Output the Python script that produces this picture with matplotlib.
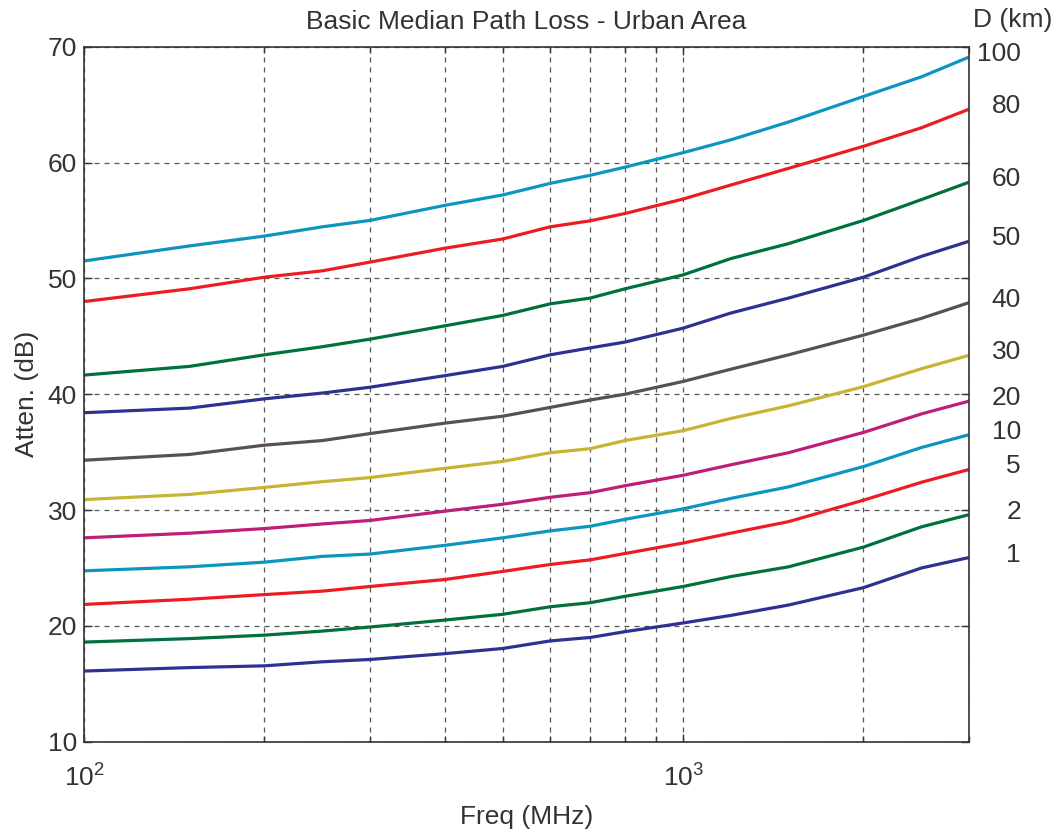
import matplotlib
matplotlib.use("Agg")
import matplotlib.pyplot as plt


FREQ = [100, 150, 200, 250, 300, 400, 500, 600, 700, 800, 1000, 1200, 1500, 2000, 2500, 3000]
DIST = [100, 80, 60, 50, 40, 30, 20, 10, 5, 2, 1]

# attenuation (dB) at each FREQ point, one list per distance
ATT_100 = [51.5, 52.8, 53.65, 54.45, 55.0, 56.3, 57.2, 58.2, 58.9, 59.6, 60.85, 61.95, 63.5, 65.7, 67.4, 69.1]
ATT_80 = [48.0, 49.1, 50.1, 50.65, 51.4, 52.6, 53.4, 54.45, 54.97, 55.6, 56.85, 58.05, 59.5, 61.4, 63.0, 64.6]
ATT_60 = [41.65, 42.4, 43.4, 44.1, 44.75, 45.9, 46.8, 47.8, 48.3, 49.1, 50.3, 51.7, 53.0, 55.0, 56.8, 58.3]
ATT_50 = [38.4, 38.8, 39.6, 40.1, 40.6, 41.6, 42.4, 43.4, 44.0, 44.5, 45.7, 47.0, 48.3, 50.1, 51.9, 53.2]
ATT_40 = [34.3, 34.8, 35.6, 36.0, 36.6, 37.5, 38.1, 38.86, 39.5, 40.0, 41.1, 42.15, 43.4, 45.1, 46.55, 47.9]
ATT_30 = [30.9, 31.35, 31.95, 32.45, 32.8, 33.6, 34.2, 34.95, 35.3, 36.0, 36.85, 37.9, 39.0, 40.65, 42.2, 43.35]
ATT_20 = [27.6, 28.0, 28.4, 28.8, 29.1, 29.9, 30.5, 31.1, 31.5, 32.1, 33.0, 33.9, 34.95, 36.7, 38.3, 39.4]
ATT_10 = [24.75, 25.1, 25.5, 26.0, 26.2, 26.95, 27.6, 28.2, 28.6, 29.2, 30.1, 31.0, 32.0, 33.75, 35.4, 36.5]
ATT_5 = [21.85, 22.3, 22.7, 23.0, 23.4, 24.0, 24.7, 25.3, 25.7, 26.25, 27.15, 28.0, 29.0, 30.85, 32.4, 33.5]
ATT_2 = [18.6, 18.9, 19.2, 19.55, 19.9, 20.5, 21.0, 21.65, 22.0, 22.55, 23.4, 24.25, 25.1, 26.8, 28.55, 29.6]
ATT_1 = [16.1, 16.4, 16.55, 16.9, 17.1, 17.6, 18.05, 18.7, 19.0, 19.5, 20.25, 20.9, 21.8, 23.3, 25.0, 25.9]

CURVES = [ATT_100, ATT_80, ATT_60, ATT_50, ATT_40, ATT_30, ATT_20,
          ATT_10, ATT_5, ATT_2, ATT_1]

COLORS = ["#0a96bf", "#ed1c24", "#00703c", "#2e3192", "#5a5050",
          "#c8b432", "#be1e78"]
TEXT = "#333333"


def main():
    plt.rcParams["font.family"] = ["Liberation Sans", "DejaVu Sans"]
    fig = plt.figure(figsize=(10.57, 8.38), dpi=100)
    ax = fig.add_axes([0.0795, 0.1149, 0.8372, 0.8294])

    for i, (d, att) in enumerate(zip(DIST, CURVES)):
        c = COLORS[i % len(COLORS)]
        ax.plot(FREQ, att, color=c, lw=2.3, solid_capstyle="butt",
                solid_joinstyle="round")
        ax.annotate(str(d), xy=(FREQ[-1], att[-1]), xytext=(52, 3),
                    textcoords="offset pixels", ha="right", va="center",
                    fontsize=19, color=TEXT, annotation_clip=False)

    ax.set_xscale("log")
    ax.set_xlim(100, 3000)
    ax.set_ylim(10, 70)
    ax.set_yticks(range(10, 71, 10))

    ax.grid(True, which="both", axis="x", color="#555555", ls=(0, (4, 4)), lw=0.9)
    ax.grid(True, which="major", axis="y", color="#555555", ls=(0, (4, 4)), lw=0.9)

    ax.tick_params(which="both", direction="in", top=True, right=True,
                   colors=TEXT, labelsize=19)
    ax.tick_params(which="major", length=6, width=1)
    ax.tick_params(which="minor", length=4, width=1)
    ax.tick_params(axis="x", pad=16)
    ax.tick_params(axis="y", pad=5)
    for s in ax.spines.values():
        s.set_color(TEXT)
        s.set_linewidth(1.2)

    ax.set_title("Basic Median Path Loss - Urban Area", fontsize=19,
                 color=TEXT, pad=13)
    ax.set_xlabel("Freq (MHz)", fontsize=19, color=TEXT, labelpad=10)
    ax.set_ylabel("Atten. (dB)", fontsize=19, color=TEXT, labelpad=6)
    fig.text(0.996, 0.976, "D (km)", ha="right", va="center", fontsize=19,
             color=TEXT)

    plt.savefig("out.png", dpi=100)
    plt.close(fig)


if __name__ == "__main__":
    main()
